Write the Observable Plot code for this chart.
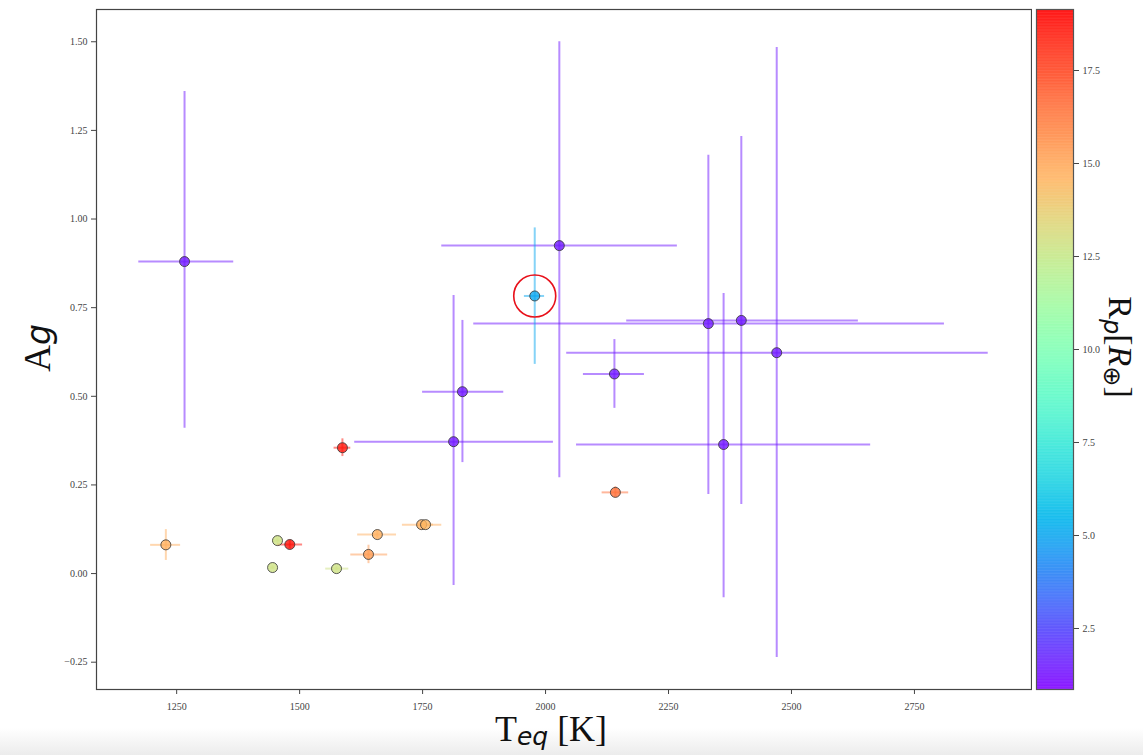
<!DOCTYPE html>
<html>
<head>
<meta charset="utf-8">
<script src="https://cdn.jsdelivr.net/npm/d3@7"></script>
<script src="https://cdn.jsdelivr.net/npm/@observablehq/plot@0.6"></script>
<style>
  html, body { margin: 0; padding: 0; background: #fff; }
  #wrap { position: relative; width: 1143px; height: 755px; overflow: hidden; }
  #shade { position: absolute; left: 0; top: 728px; width: 1143px; height: 27px;
           background: linear-gradient(#ffffff, #ececec); }
  .lab { position: absolute; font-family: "Liberation Serif", "DejaVu Serif", serif; color: #111; white-space: nowrap; line-height: 1; }
  .m { font-family: "DejaVu Sans", sans-serif; font-style: oblique; }
  .sb { vertical-align: -0.22em; line-height: 0; }
  #main, #cbar { position: absolute; top: 0; }
  #main { left: 0; }
  #cbar { left: 1030px; }
</style>
</head>
<body>
<div id="wrap">
  <div id="shade"></div>
  <div id="main"></div>
  <div id="cbar"></div>
  <div class="lab" id="ylab" style="left:37px; top:348px; font-size:37px; transform: translate(-50%,-50%) rotate(-90deg);">A<span class="m" style="font-size:33px;">g</span></div>
  <div class="lab" id="xlab" style="left:551px; top:729px; font-size:36px; transform: translate(-50%,-50%);">T<span class="m" style="font-size:25px; vertical-align:-0.15em; line-height:0;">eq</span> [K]</div>
  <div class="lab" id="clab" style="left:1120px; top:347px; font-size:34px; transform: translate(-50%,-50%) rotate(90deg);">R<span class="m sb" style="font-size:24px;">p</span>[<i>R</i><span class="sb" style="font-size:24px; font-family:'DejaVu Sans',sans-serif;">⊕</span>]</div>
</div>
<script>
// ---- data ----
const teq    = [1266, 2028, 1978, 1831, 1813, 2140, 2331, 2398, 2470, 2362, 2142, 1587, 1228, 1455, 1480, 1445, 1575, 1640, 1658, 1748, 1756];
const teqLo  = [1173, 1789, 1957, 1750, 1612, 2077, 1854, 2165, 2043, 2063, 2115, 1570, 1197, 1445, 1455, 1440, 1553, 1604, 1618, 1709, 1740];
const teqHi  = [1366, 2268, 1998, 1915, 2016, 2201, 2811, 2636, 2900, 2661, 2169, 1604, 1258, 1465, 1506, 1450, 1600, 1679, 1697, 1789, 1772];
const ag     = [0.88, 0.925, 0.783, 0.513, 0.372, 0.563, 0.705, 0.714, 0.623, 0.364, 0.229, 0.355, 0.081, 0.093, 0.082, 0.017, 0.014, 0.054, 0.110, 0.138, 0.138];
const agLo   = [0.41, 0.27, 0.59, 0.313, -0.034, 0.466, 0.223, 0.195, -0.237, -0.068, 0.215, 0.33, 0.037, 0.085, 0.070, 0.012, 0.008, 0.028, 0.100, 0.130, 0.130];
const agHi   = [1.36, 1.50, 0.975, 0.714, 0.784, 0.66, 1.18, 1.233, 1.484, 0.79, 0.245, 0.38, 0.124, 0.100, 0.094, 0.022, 0.020, 0.080, 0.120, 0.146, 0.146];
const rp     = [1.4, 1.4, 5.0, 1.4, 1.4, 1.4, 1.4, 1.4, 1.4, 1.4, 16.5, 18.6, 14.7, 12.8, 18.8, 12.8, 12.8, 15.3, 14.7, 14.7, 14.5];
const highlighted = [2]; // index of circled planet
const xTicks  = [1250, 1500, 1750, 2000, 2250, 2500, 2750];
const yTicks  = [-0.25, 0, 0.25, 0.5, 0.75, 1.0, 1.25, 1.5];
const cTicks  = [2.5, 5.0, 7.5, 10.0, 12.5, 15.0, 17.5];
const xDomain = [1087, 2988];
const yDomain = [-0.327, 1.591];
const cDomain = [0.86, 19.14];

// ---- matplotlib "rainbow" colormap ----
function rainbow(t) {
  const c = v => Math.max(0, Math.min(1, v));
  const r = c(Math.abs(2 * t - 0.5)), g = c(Math.sin(Math.PI * t)), b = c(Math.cos(Math.PI * t / 2));
  return d3.rgb(r * 255, g * 255, b * 255).toString();
}
const colorScale = { type: "linear", domain: cDomain, interpolate: rainbow };

const rows = teq.map((t, i) => ({ t, tlo: teqLo[i], thi: teqHi[i], a: ag[i], alo: agLo[i], ahi: agHi[i], rp: rp[i] }));
const hl = highlighted.map(i => rows[i]);

const font = "Liberation Serif, DejaVu Serif, serif";

const main = Plot.plot({
  width: 1032, height: 755,
  marginLeft: 96, marginRight: 1, marginTop: 9, marginBottom: 66,
  style: { background: "transparent", fontFamily: font, fontSize: "10px", color: "#444" },
  x: { domain: xDomain, label: null },
  y: { domain: yDomain, label: null },
  color: colorScale,
  marks: [
    Plot.ruleY(rows, { y: "a", x1: "tlo", x2: "thi", stroke: "rp", strokeWidth: 2, strokeOpacity: 0.5 }),
    Plot.ruleX(rows, { x: "t", y1: "alo", y2: "ahi", stroke: "rp", strokeWidth: 2, strokeOpacity: 0.5 }),
    Plot.dot(rows, { x: "t", y: "a", fill: "rp", fillOpacity: 0.8, stroke: "#333", strokeWidth: 1, strokeOpacity: 0.8, r: 5 }),
    Plot.dot(hl, { x: "t", y: "a", r: 21, stroke: "#e8101a", strokeWidth: 1.6, fill: "none" }),
    Plot.axisX({ ticks: xTicks, tickFormat: d => String(d), tickSize: 5, tickPadding: 8, stroke: "#444", fill: "#444", fontSize: 10 }),
    Plot.axisY({ ticks: yTicks, tickFormat: d3.format(".2f"), tickSize: 5, tickPadding: 4, stroke: "#444", fill: "#444", fontSize: 10 }),
    Plot.frame({ stroke: "#444", strokeWidth: 1.2 })
  ]
});
document.getElementById("main").appendChild(main);

// ---- colorbar ----
const step = 0.04;
const strips = d3.range(cDomain[0], cDomain[1], step).map(v => ({ v1: v, v2: Math.min(v + step * 1.3, cDomain[1]), v: v + step / 2 }));
const cbar = Plot.plot({
  width: 113, height: 755,
  marginLeft: 6, marginRight: 70, marginTop: 9, marginBottom: 66,
  style: { background: "transparent", fontFamily: font, fontSize: "10px", color: "#444" },
  x: { domain: [0, 1], axis: null },
  y: { domain: cDomain, label: null },
  color: colorScale,
  marks: [
    Plot.rect(strips, { x1: 0, x2: 1, y1: "v1", y2: "v2", fill: "v", fillOpacity: 0.85 }),
    Plot.axisY({ anchor: "right", ticks: cTicks, tickFormat: d3.format(".1f"), tickSize: 5, tickPadding: 4, stroke: "#444", fill: "#444", fontSize: 10 }),
    Plot.frame({ stroke: "#555", strokeWidth: 1.2 })
  ]
});
document.getElementById("cbar").appendChild(cbar);
</script>
</body>
</html>
